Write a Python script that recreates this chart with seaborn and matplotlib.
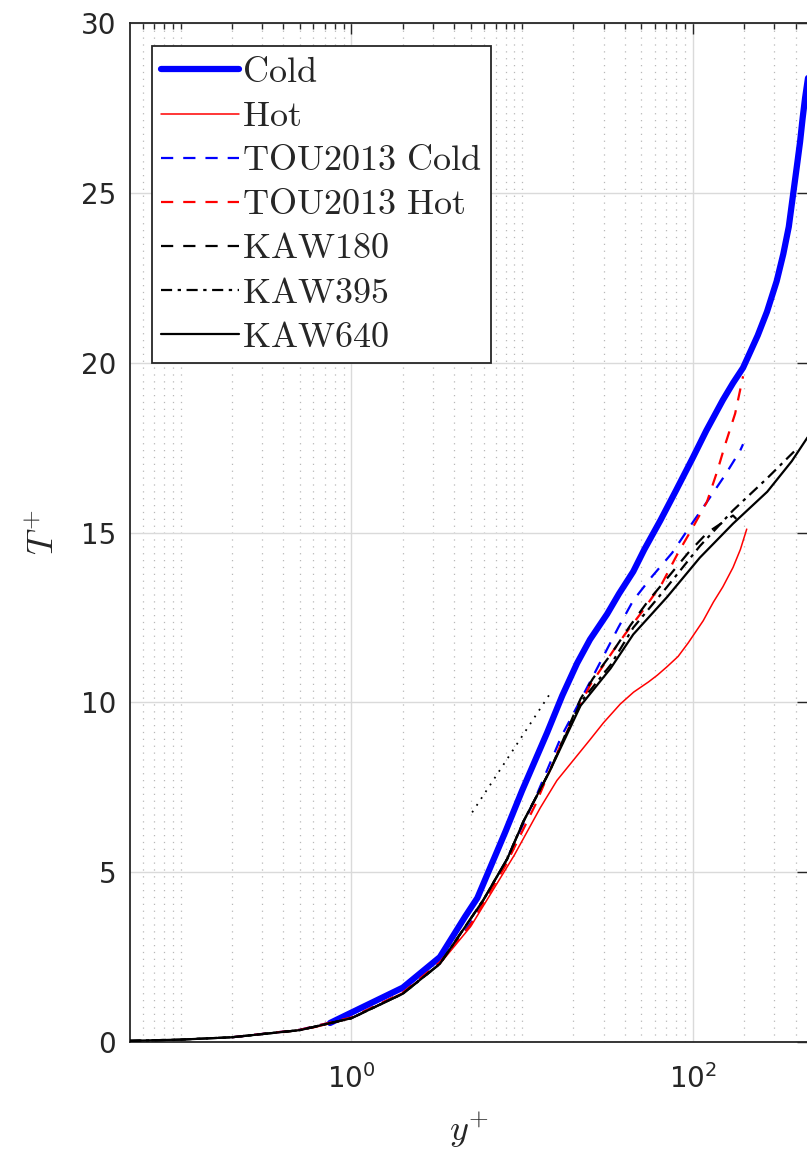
import numpy as np
import pandas as pd
import matplotlib
matplotlib.use("Agg")
import matplotlib.pyplot as plt
import matplotlib.ticker as mticker
import seaborn as sns

# ---------------- data ----------------
cold_y = [0.75, 2.0, 3.3, 4.65, 5.47, 8, 10, 14, 17.2, 21, 25, 31.5, 37, 44.8, 52, 64.5, 80,
          100, 120, 150, 172, 197, 240, 272, 310, 339, 365, 388, 410, 425, 440, 455, 480]
cold_T = [0.56, 1.6, 2.5, 3.7, 4.24, 6.2, 7.4, 9.1, 10.2, 11.15, 11.85, 12.6, 13.2, 13.85, 14.5,
          15.35, 16.25, 17.2, 18.0, 18.9, 19.4, 19.85, 20.8, 21.5, 22.4, 23.2, 24.0, 25.0, 25.9,
          26.5, 27.2, 27.8, 28.6]

hot_y = [0.4, 0.6, 1.0, 2.0, 3.3, 5, 7, 9, 12.8, 16, 20, 25, 30, 37.6, 45, 55, 62, 70.7, 82,
         94, 115, 132, 150, 172, 190, 207]
hot_T = [0.28, 0.42, 0.7, 1.45, 2.3, 3.4, 4.6, 5.5, 6.9, 7.7, 8.3, 8.9, 9.4, 9.95, 10.3, 10.6,
         10.8, 11.05, 11.35, 11.75, 12.4, 12.95, 13.4, 13.97, 14.5, 15.1]

tou_cold_y = [0.2, 0.5, 1, 2, 3.3, 5, 8, 12, 17, 25, 36.6, 44.8, 57.6, 75.7, 96.9, 121, 155, 189, 197]
tou_cold_T = [0.14, 0.36, 0.72, 1.45, 2.35, 3.5, 5.3, 7.2, 9.0, 10.6, 12.2, 13.0, 13.7, 14.4,
              15.2, 15.9, 16.7, 17.4, 17.6]

tou_hot_y = [0.2, 0.5, 1, 2, 3.3, 5, 8, 12, 17, 25, 34, 40, 51, 66, 82, 100, 121, 139, 155, 177, 197]
tou_hot_T = [0.14, 0.36, 0.72, 1.45, 2.35, 3.45, 5.2, 7.0, 8.8, 10.5, 11.5, 12.0, 12.7, 13.5,
             14.4, 15.15, 15.9, 16.8, 17.6, 18.5, 19.6]

kaw180_y = [0.05, 0.1, 0.2, 0.5, 1, 2, 3.3, 5.93, 8.2, 10.2, 14.6, 22, 26, 33, 43, 55, 70.7,
            94, 122, 150, 172, 180]
kaw180_T = [0.035, 0.07, 0.14, 0.35, 0.7, 1.42, 2.3, 4.18, 5.4, 6.5, 8.0, 10.1, 10.7, 11.4,
            12.26, 13.0, 13.65, 14.4, 15.0, 15.3, 15.5, 15.4]

kaw395_y = [0.05, 0.1, 0.2, 0.5, 1, 2, 3.3, 5.93, 8.2, 10.2, 14.6, 22, 33, 44.8, 70.7, 110,
            172, 273, 395]
kaw395_T = [0.035, 0.07, 0.14, 0.35, 0.7, 1.42, 2.3, 4.18, 5.4, 6.5, 8.0, 10.0, 11.1, 12.2,
            13.4, 14.6, 15.65, 16.6, 17.4]

kaw640_y = [0.05, 0.1, 0.2, 0.5, 1, 2, 3.3, 5.93, 8.2, 10.2, 14.6, 22, 33, 44.8, 70.7, 110,
            172, 273, 380, 470]
kaw640_T = [0.035, 0.07, 0.14, 0.35, 0.7, 1.42, 2.3, 4.18, 5.4, 6.5, 8.0, 9.9, 11.0, 12.0,
            13.1, 14.26, 15.26, 16.2, 17.1, 17.8]

loglaw_y = [5.1, 14.6]
loglaw_T = [6.76, 10.26]

labels = [r"$\mathrm{Cold}$", r"$\mathrm{Hot}$", r"$\mathrm{TOU2013\ Cold}$",
          r"$\mathrm{TOU2013\ Hot}$", r"$\mathrm{KAW180}$", r"$\mathrm{KAW395}$",
          r"$\mathrm{KAW640}$"]

# ---------------- style ----------------
sns.set_style("white")
plt.rcParams["font.family"] = ["DejaVu Sans"]
plt.rcParams["mathtext.fontset"] = "cm"

fig = plt.figure(figsize=(8.07, 11.52), dpi=100)
ax = fig.add_axes([130 / 807, 110 / 1152, 678 / 807, 1019 / 1152])

series = [
    (cold_y, cold_T, dict(color="#0000ff", lw=4.5, ls="-")),
    (hot_y, hot_T, dict(color="#ff0000", lw=1.1, ls="-")),
    (tou_cold_y, tou_cold_T, dict(color="#0000ff", lw=1.6, dashes=(5.5, 4.5))),
    (tou_hot_y, tou_hot_T, dict(color="#ff0000", lw=1.6, dashes=(5.5, 4.5))),
    (kaw180_y, kaw180_T, dict(color="black", lw=1.6, dashes=(5.5, 4.5))),
    (kaw395_y, kaw395_T, dict(color="black", lw=1.6, dashes=(5, 2.5, 1.5, 2.5))),
    (kaw640_y, kaw640_T, dict(color="black", lw=1.6, ls="-")),
]

handles = []
for (yy, TT, st), lab in zip(series, labels):
    df = pd.DataFrame({"y": yy, "T": TT})
    kw = dict(st)
    dashes = kw.pop("dashes", None)
    sns.lineplot(data=df, x="y", y="T", ax=ax, estimator=None, sort=False,
                 color=kw["color"], linewidth=kw["lw"], label=lab)
    ln = ax.lines[-1]
    if dashes is not None:
        ln.set_dashes(dashes)
    else:
        ln.set_linestyle(kw.get("ls", "-"))
    ln.set_zorder(3)
    handles.append(ln)

dfl = pd.DataFrame({"y": loglaw_y, "T": loglaw_T})
sns.lineplot(data=dfl, x="y", y="T", ax=ax, estimator=None, color="black",
             linewidth=1.3, legend=False)
ax.lines[-1].set_linestyle((0, (1, 3.5)))

ax.set_xscale("log")
ax.set_xlim(0.0505, 473)
ax.set_ylim(0, 30)
ax.set_yticks([0, 5, 10, 15, 20, 25, 30])
ax.xaxis.set_major_locator(mticker.LogLocator(base=100.0, numticks=10))
ax.xaxis.set_major_formatter(mticker.LogFormatterSciNotation(base=10))
minor_pos = [m * 10.0 ** k for k in range(-2, 4) for m in range(1, 10)
             if not (m == 1 and k % 2 == 0)]
ax.xaxis.set_minor_locator(mticker.FixedLocator(minor_pos))
ax.xaxis.set_minor_formatter(mticker.NullFormatter())

ax.grid(True, which="major", color="#dadada", lw=1.0, ls="-")
ax.grid(True, which="minor", axis="x", color="#b8b8b8", lw=0.9, ls=(0, (1, 4.5)))
ax.set_axisbelow(True)

for s in ax.spines.values():
    s.set_color("#262626")
    s.set_linewidth(1.3)
ax.tick_params(which="both", direction="in", top=True, right=True, colors="#262626",
               labelsize=20, width=1.0)
ax.tick_params(which="major", length=8, pad=10)
ax.tick_params(axis="x", which="major", pad=16)
ax.tick_params(which="minor", length=4)
ax.tick_params(axis="y", which="minor", left=False, right=False)

ax.set_xlabel(r"$y^{+}$", fontsize=26, color="#262626", labelpad=12)
ax.set_ylabel(r"$T^{+}$", fontsize=26, color="#262626", labelpad=14)

leg = ax.legend(handles=handles, labels=labels, loc="upper left",
                bbox_to_anchor=(22 / 678, 1 - 23 / 1019), borderaxespad=0,
                fontsize=26, frameon=True, fancybox=False, framealpha=1,
                edgecolor="#262626", handlelength=2.15, handletextpad=0.1,
                labelspacing=0.28, borderpad=0.25)
leg.get_frame().set_linewidth(1.3)
leg.set_zorder(10)

fig.savefig("out.png", dpi=100)
